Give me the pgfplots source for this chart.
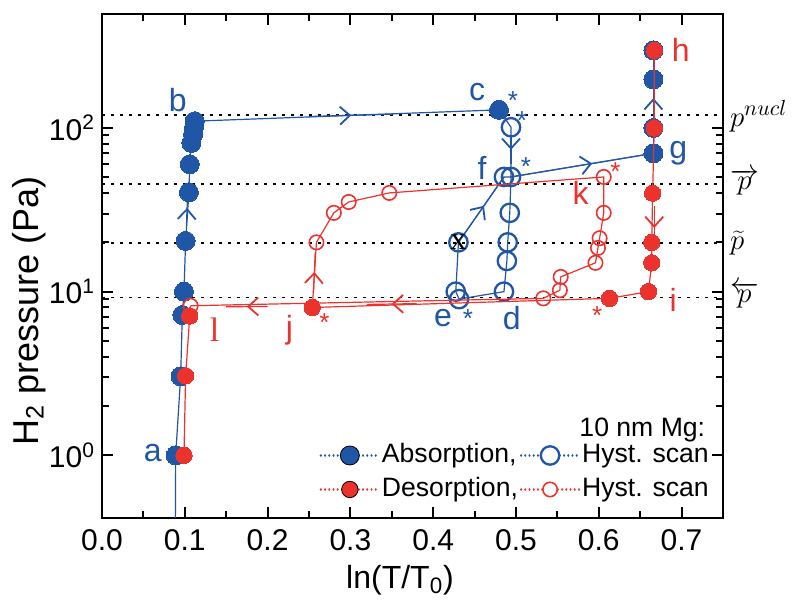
\documentclass[border=0pt]{standalone}
\usepackage{pgfplots}
\pgfplotsset{compat=1.18}
\usepackage{fontspec}
\setmainfont{Liberation Sans}
\newfontfamily\serif{Liberation Serif}
\usetikzlibrary{arrows.meta,decorations.markings}
\definecolor{blueC}{RGB}{32,86,166}
\definecolor{redC}{RGB}{236,50,45}
\tikzset{midarrow/.style={postaction={decorate}, decoration={markings, mark=at position #1 with {\arrow{Straight Barb[length=5pt,width=9pt,line width=0.9pt]}}}}}
\tikzset{legdot/.style={line width=1.1pt, line cap=round, dash pattern=on 0.01pt off 2.1pt}}
\begin{document}
\begin{tikzpicture}
\useasboundingbox (-51pt,-43.5pt) rectangle (349pt,259pt);
\begin{axis}[
  at={(0,0)}, anchor=south west,
  scale only axis, width=310.5pt, height=252pt,
  xmin=0, xmax=0.75, ymin=0.414, ymax=497, ymode=log,
  xtick={0,0.1,0.2,0.3,0.4,0.5,0.6,0.7},
  xticklabels={0.0,0.1,0.2,0.3,0.4,0.5,0.6,0.7},
  minor xtick={0.05,0.15,0.25,0.35,0.45,0.55,0.65},
  ytick={1,10,100},
  yticklabels={10\textsuperscript{0},10\textsuperscript{1},10\textsuperscript{2}},
  tick align=inside,
  major tick length=5.5pt, minor tick length=3.5pt,
  axis line style={line width=1.4pt},
  every tick/.style={black, line width=1pt},
  tick label style={font=\fontsize{15}{18}\selectfont},
  xticklabel style={yshift=-2pt},
  xlabel={ln(T/T\textsubscript{0})}, ylabel={H\textsubscript{2} pressure (Pa)},
  xlabel style={font=\fontsize{16}{19}\selectfont, at={(axis description cs:0.48,0)}, anchor=center, yshift=-31pt},
  ylabel style={font=\fontsize{18}{21}\selectfont, at={(axis description cs:-0.118,0.41)}, anchor=center},
  clip mode=individual,
  legend columns=2,
  legend cell align=left,
  legend style={draw=none, fill=none, at={(axis description cs:0.350,0.028)}, anchor=south west,
    font=\fontsize{13.3}{15}\selectfont, column sep=0pt, row sep=3pt, inner sep=0pt,
    nodes={inner sep=1pt, text height=9.5pt, text depth=2.5pt}},
]
% reference pressure lines
\addplot[black, line width=0.6pt, dash pattern=on 1.5pt off 3pt, forget plot] coordinates {(0,120) (0.75,120)};
\addplot[black, line width=0.6pt, dash pattern=on 1.5pt off 3pt, forget plot] coordinates {(0,45.5) (0.75,45.5)};
\addplot[black, line width=0.6pt, dash pattern=on 1.5pt off 3pt, forget plot] coordinates {(0,19.8) (0.75,19.8)};
\addplot[black, line width=0.6pt, dash pattern=on 1.5pt off 3pt, forget plot] coordinates {(0,9.2) (0.75,9.2)};

% ---- blue absorption ----
\addplot[blueC, line width=0.6pt, forget plot] coordinates {(0.0885,0.3) (0.089,1)};
\addplot[blueC, line width=0.6pt, forget plot] coordinates {(0.112,110) (0.4795,129)};
% blue hysteresis scan line
\addplot[blueC, line width=0.6pt, forget plot] coordinates {
(0.4795,129) (0.494,101) (0.494,50.2) (0.4925,30.3) (0.490,20) (0.489,15.4) (0.4855,10)
(0.4313,9.0) (0.4273,10) (0.4305,20) (0.4855,50.2) (0.494,50.2) (0.666,70)};
\addplot[blueC, line width=0.6pt, mark=*, mark size=4.75pt, mark options={solid, fill=blueC, draw=blueC, line width=0pt}, forget plot] coordinates {
(0.089,1) (0.095,3.04) (0.097,7.2) (0.099,10) (0.101,20.4) (0.105,40.5) (0.106,60) (0.108,81) (0.110,91) (0.111,100) (0.112,110)};
\addplot[blueC, only marks, mark=*, mark size=4.75pt, mark options={fill=blueC, draw=blueC, line width=0pt}, forget plot] coordinates {(0.4795,129)};
\addplot[blueC, only marks, mark=o, mark size=4.6pt, mark options={line width=1.15pt}, forget plot] coordinates {
(0.494,101) (0.4855,50.2) (0.494,50.2) (0.4925,30.3) (0.490,20) (0.489,15.4) (0.4855,10)
(0.4313,9.0) (0.4273,10) (0.4305,20)};
\addplot[blueC, line width=0.6pt, mark=*, mark size=4.75pt, mark options={fill=blueC, draw=blueC, line width=0pt}, forget plot] coordinates {
(0.666,70) (0.666,100) (0.666,198) (0.666,298)};
% blue arrows
\addplot[blueC, line width=0.6pt, midarrow=0.5, forget plot] coordinates {(0.102,25) (0.1035,42.2)};
\addplot[blueC, line width=0.6pt, midarrow=0.5, forget plot] coordinates {(0.25,117.5) (0.352,121.5)};
\addplot[blueC, line width=0.6pt, midarrow=0.5, forget plot] coordinates {(0.494,90) (0.494,60)};
\addplot[blueC, line width=0.6pt, midarrow=0.56, forget plot] coordinates {(0.4305,20) (0.4855,50.2)};
\addplot[blueC, line width=0.6pt, midarrow=0.57, forget plot] coordinates {(0.494,50.2) (0.666,70)};
\addplot[blueC, line width=0.6pt, midarrow=0.5, forget plot] coordinates {(0.666,120) (0.666,193)};

% ---- red desorption ----
\addplot[redC, line width=0.6pt, forget plot] coordinates {
(0.667,298) (0.667,100) (0.665,40) (0.664,20) (0.664,15) (0.660,10) (0.613,9.1) (0.254,8.0)};
\addplot[redC, line width=0.6pt, forget plot] coordinates {
(0.254,8.0) (0.259,20) (0.280,30.3) (0.298,35.3) (0.347,40.1) (0.606,50.2) (0.606,30.3)
(0.601,21.2) (0.599,18.5) (0.596,15) (0.554,12.3) (0.553,10.2) (0.533,9.1) (0.107,8.2)};
\addplot[redC, line width=0.6pt, forget plot] coordinates {(0.107,8.2) (0.106,7.1) (0.101,3.06) (0.099,1)};
\addplot[redC, only marks, mark=*, mark size=4.1pt, mark options={fill=redC, draw=redC, line width=0pt}, forget plot] coordinates {
(0.667,298) (0.667,100) (0.665,40) (0.664,20) (0.664,15) (0.660,10) (0.613,9.1) (0.254,8.0)
(0.106,7.1) (0.101,3.06) (0.099,1)};
\addplot[redC, only marks, mark=o, mark size=3.6pt, mark options={line width=0.8pt}, forget plot] coordinates {
(0.259,20) (0.280,30.3) (0.298,35.3) (0.347,40.1) (0.606,50.2) (0.606,30.3)
(0.601,21.2) (0.599,18.5) (0.596,15) (0.554,12.3) (0.553,10.2) (0.533,9.1) (0.107,8.2)};
% red arrows
\addplot[redC, line width=0.6pt, midarrow=0.5, forget plot] coordinates {(0.667,33.3) (0.667,18)};
\addplot[redC, line width=0.6pt, midarrow=0.5, forget plot] coordinates {(0.2555,10) (0.2575,17.4)};
\addplot[redC, line width=0.6pt, midarrow=0.5, forget plot] coordinates {(0.20,8.12) (0.15,8.08)};
\addplot[redC, line width=0.6pt, midarrow=0.5, forget plot] coordinates {(0.38,8.45) (0.32,8.35)};

% legend
\addlegendimage{legend image code/.code={\draw[draw=blueC, legdot] (0pt,0pt) -- (29pt,0pt); \fill[fill=blueC] (14.5pt,0pt) circle[radius=4.75pt];}}
\addlegendentry{Absorption,}
\addlegendimage{legend image code/.code={\draw[draw=blueC, legdot] (0pt,0pt) -- (9.6pt,0pt); \draw[draw=blueC, legdot] (19.4pt,0pt) -- (29pt,0pt); \draw[draw=blueC, line width=1.15pt] (14.5pt,0pt) circle[radius=4.6pt];}}
\addlegendentry{Hyst. scan}
\addlegendimage{legend image code/.code={\draw[draw=redC, legdot] (0pt,0pt) -- (29pt,0pt); \fill[fill=redC] (14.5pt,0pt) circle[radius=4.1pt];}}
\addlegendentry{Desorption,}
\addlegendimage{legend image code/.code={\draw[draw=redC, legdot] (0pt,0pt) -- (10.6pt,0pt); \draw[draw=redC, legdot] (18.4pt,0pt) -- (29pt,0pt); \draw[draw=redC, line width=0.8pt] (14.5pt,0pt) circle[radius=3.6pt];}}
\addlegendentry{Hyst. scan}
\node[anchor=east, font=\fontsize{13.3}{15}\selectfont] at (axis cs:0.737,1.43) {10 nm Mg:};

% point labels
\node[blueC, font=\fontsize{16}{19}\selectfont] at (axis cs:0.0614,1.03) {a};
\node[blueC, font=\fontsize{16}{19}\selectfont] at (axis cs:0.0916,148) {b};
\node[blueC, font=\fontsize{16}{19}\selectfont] at (axis cs:0.453,166) {c};
\node[blueC, font=\fontsize{16}{19}\selectfont] at (axis cs:0.495,6.9) {d};
\node[blueC, font=\fontsize{16}{19}\selectfont] at (axis cs:0.412,6.9) {e};
\node[blueC, font=\fontsize{16}{19}\selectfont] at (axis cs:0.459,57) {f};
\node[blueC, font=\fontsize{16}{19}\selectfont] at (axis cs:0.696,70) {g};
\node[redC, font=\fontsize{16}{19}\selectfont] at (axis cs:0.699,300) {h};
\node[redC, font=\fontsize{16}{19}\selectfont] at (axis cs:0.690,8.9) {i};
\node[redC, font=\fontsize{16}{19}\selectfont] at (axis cs:0.2265,5.84) {j};
\node[redC, font=\fontsize{16}{19}\selectfont] at (axis cs:0.578,40) {k};
\node[redC, font=\serif\fontsize{17}{19}\selectfont] at (axis cs:0.136,5.84) {l};
\node[black, font=\serif\fontsize{16}{19}\selectfont] at (axis cs:0.4305,20) {x};
% asterisks
\node[blueC, font=\fontsize{13}{15}\selectfont, yshift=-3pt] at (axis cs:0.4964,160) {*};
\node[blueC, font=\fontsize{13}{15}\selectfont, yshift=-3pt] at (axis cs:0.5072,121) {*};
\node[blueC, font=\fontsize{13}{15}\selectfont, yshift=-3pt] at (axis cs:0.512,63) {*};
\node[blueC, font=\fontsize{13}{15}\selectfont, yshift=-3pt] at (axis cs:0.442,7.4) {*};
\node[redC, font=\fontsize{13}{15}\selectfont, yshift=-3pt] at (axis cs:0.620,59) {*};
\node[redC, font=\fontsize{13}{15}\selectfont, yshift=-3pt] at (axis cs:0.598,7.8) {*};
\node[redC, font=\fontsize{13}{15}\selectfont, yshift=-3pt] at (axis cs:0.2687,7.0) {*};
% right-hand labels
\node[anchor=base west, font=\fontsize{15}{18}\selectfont, yshift=-5.5pt] at (axis cs:0.75,120) {$p^{nucl}$};
\node[anchor=base west, font=\fontsize{15}{18}\selectfont, yshift=-3pt] at (axis cs:0.75,45.5) {$\overrightarrow{p}$};
\node[anchor=base west, font=\fontsize{15}{18}\selectfont, yshift=-3pt] at (axis cs:0.75,19.8) {$\widetilde{p}$};
\node[anchor=base west, font=\fontsize{15}{18}\selectfont, yshift=-2.5pt] at (axis cs:0.75,9.2) {$\overleftarrow{p}$};
\end{axis}
\end{tikzpicture}
\end{document}
